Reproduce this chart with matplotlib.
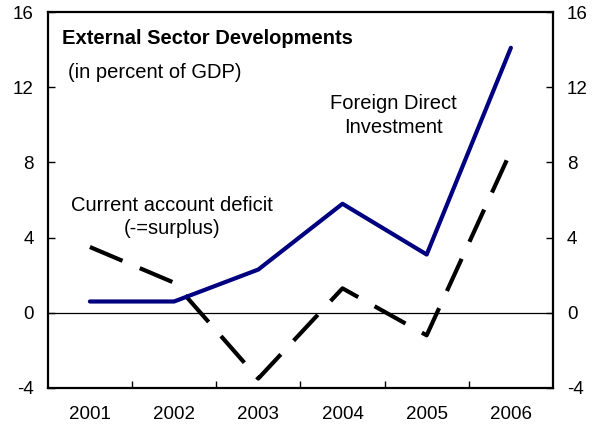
import numpy as np
import matplotlib.pyplot as plt

plt.rcParams['font.family'] = ['Liberation Sans', 'DejaVu Sans']

years = ['2001', '2002', '2003', '2004', '2005', '2006']
fdi = [0.6, 0.6, 2.3, 5.8, 3.1, 14.1]
current_account = [3.5, 1.6, -3.5, 1.3, -1.2, 8.6]
yticks = [-4, 0, 4, 8, 12, 16]

fig = plt.figure(figsize=(6.05, 4.32), dpi=100)
ax = fig.add_axes([0.079, 0.102, 0.835, 0.870])

x = np.arange(len(years)) + 0.5
ax.axhline(0, color='black', lw=0.9, zorder=1)
ax.plot(x, fdi, color='#000080', lw=3.0, solid_capstyle='round', zorder=3)
ax.plot(x, current_account, color='black', lw=3.0, dashes=(8.5, 4.5), zorder=2)

ax.set_xlim(0, len(years))
ax.set_ylim(-4, 16)
ax.set_xticks(np.arange(1, len(years)))
ax.set_xticklabels([])
ax.set_xticks(x, minor=True)
ax.set_xticklabels(years, minor=True, fontsize=13.5)
ax.tick_params(axis='x', which='major', direction='in', length=5, width=1)
ax.tick_params(axis='x', which='minor', length=0, pad=13)
ax.set_yticks(yticks)
ax.set_yticklabels([str(t) for t in yticks], fontsize=13.5)
ax.tick_params(axis='y', direction='in', length=5, width=1, pad=10,
               left=True, right=True, labelleft=True, labelright=True)
for s in ax.spines.values():
    s.set_linewidth(1.6)

ax.text(0.028, 0.93, 'External Sector Developments', transform=ax.transAxes,
        fontsize=14.5, fontweight='bold', va='center')
ax.text(0.04, 0.84, '(in percent of GDP)', transform=ax.transAxes,
        fontsize=14.5, va='center')
ax.text(4.1, 10.5, 'Foreign Direct\nInvestment', fontsize=14.5,
        ha='center', va='center', linespacing=1.3)
ax.text(1.48, 5.1, 'Current account deficit\n(-=surplus)', fontsize=14.5,
        ha='center', va='center', linespacing=1.3)

fig.savefig('out.png', dpi=100)
